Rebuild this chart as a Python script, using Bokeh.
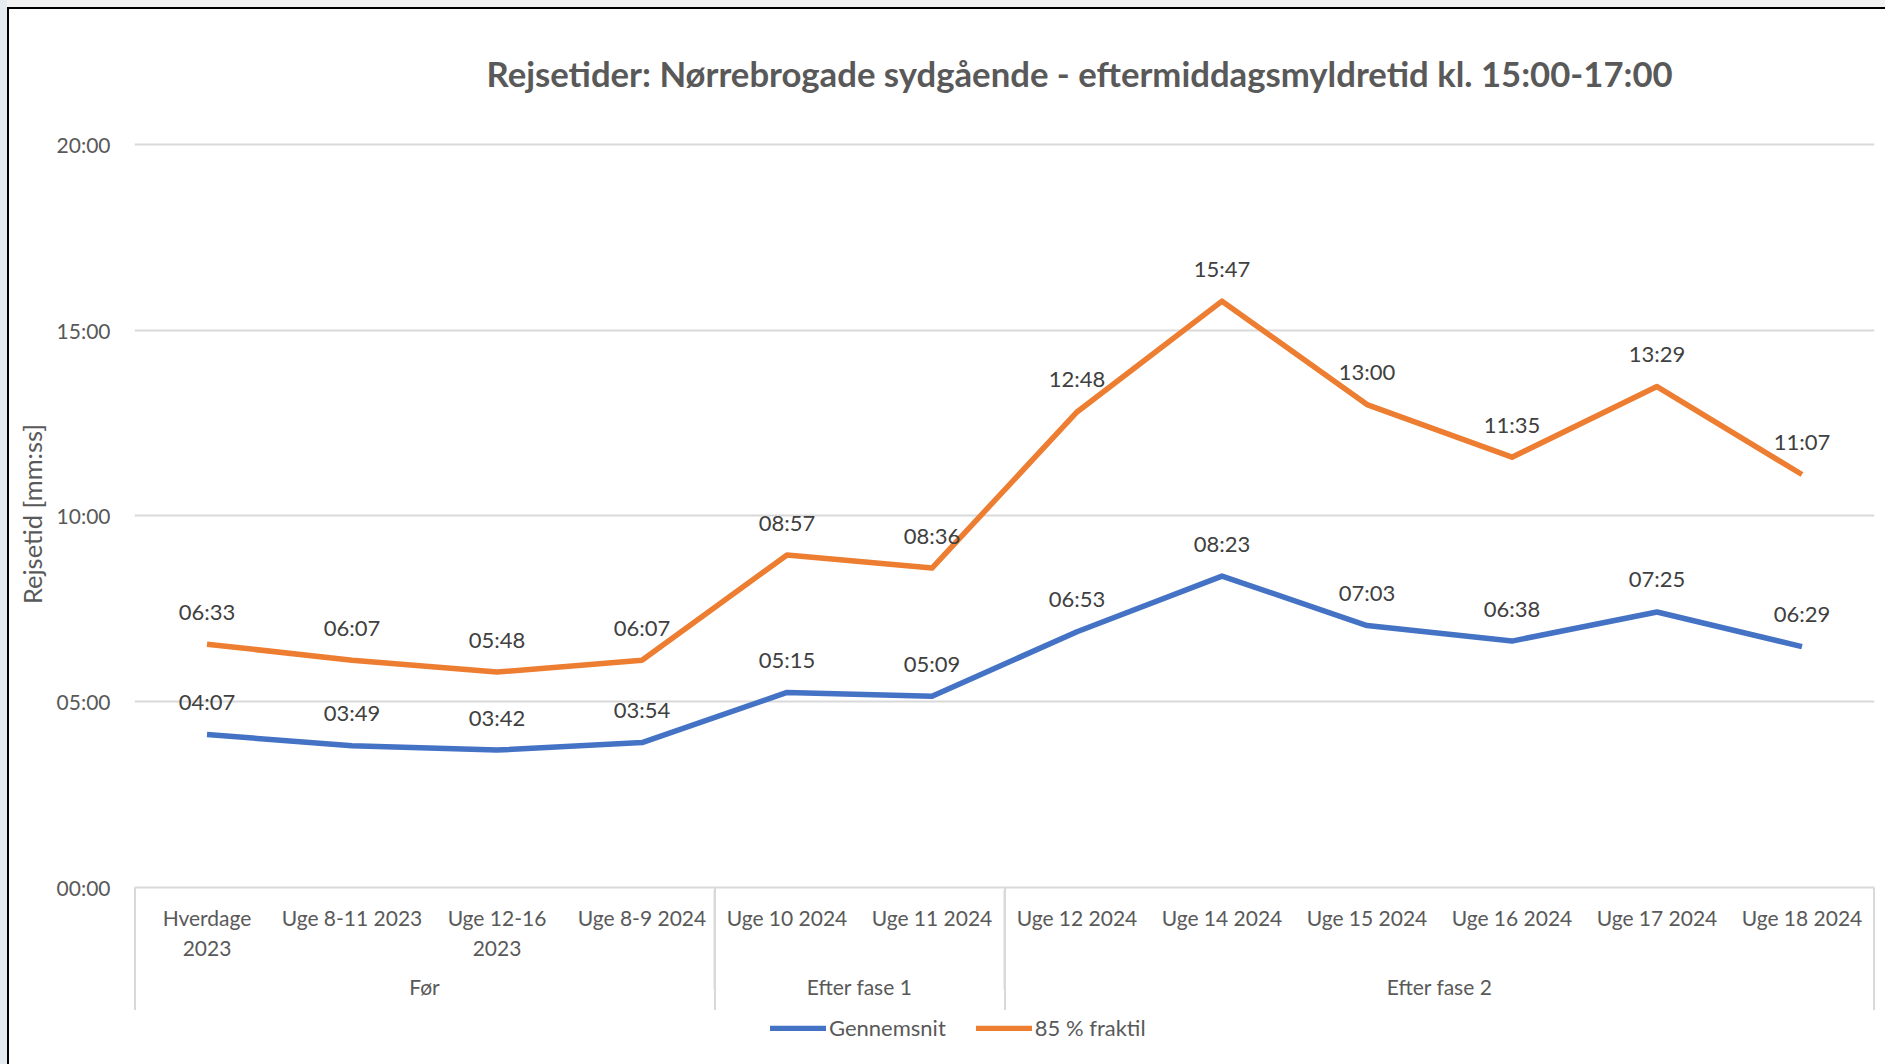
from bokeh.plotting import figure
from bokeh.layouts import column
from bokeh.embed import file_html
from bokeh.resources import INLINE
from bokeh.models import (FactorRange, Range1d, FixedTicker, Legend, LegendItem, ColumnDataSource)
from bokeh.core.properties import value

groups = ["Før"] * 4 + ["Efter fase 1"] * 2 + ["Efter fase 2"] * 6
categories = ["Hverdage\n2023", "Uge 8-11 2023", "Uge 12-16\n2023", "Uge 8-9 2024",
              "Uge 10 2024", "Uge 11 2024", "Uge 12 2024", "Uge 14 2024",
              "Uge 15 2024", "Uge 16 2024", "Uge 17 2024", "Uge 18 2024"]
gennemsnit = ["04:07", "03:49", "03:42", "03:54", "05:15", "05:09", "06:53", "08:23", "07:03", "06:38", "07:25", "06:29"]
fraktil = ["06:33", "06:07", "05:48", "06:07", "08:57", "08:36", "12:48", "15:47", "13:00", "11:35", "13:29", "11:07"]
y_ticks = [0, 300, 600, 900, 1200]
y_labels = ["00:00", "05:00", "10:00", "15:00", "20:00"]
title = "Rejsetider: Nørrebrogade sydgående - eftermiddagsmyldretid kl. 15:00-17:00"

FONT = "Lato"
TXT = "#595959"
GRID = "#d9d9d9"
BLUE = "#4472c4"
ORANGE = "#ed7d31"

def secs(s):
    m, ss = s.split(":")
    return int(m) * 60 + int(ss)

factors = list(zip(groups, categories))

# the frame reaches a little above 20:00 so that the top gridline is drawn whole
p = figure(width=1885, height=1012, output_backend="svg", toolbar_location=None,
           x_range=FactorRange(factors=factors, factor_padding=0, subgroup_padding=0,
                               group_padding=0, range_padding=0),
           y_range=Range1d(0, 1206.46),
           min_border_left=134, min_border_right=11, min_border_top=140, min_border_bottom=125)
p.outline_line_color = None
p.background_fill_color = None
p.border_fill_color = None

p.title.text = title
p.title.text_font = FONT
p.title.text_font_size = "34.7px"
p.title.text_font_style = "bold"
p.title.text_color = TXT
p.title.align = "left"
p.title.offset = 352
p.title.standoff = 94

p.xgrid.visible = False
p.ygrid.grid_line_color = GRID
p.ygrid.grid_line_width = 2
p.ygrid.ticker = FixedTicker(ticks=y_ticks)

ax = p.yaxis[0]
ax.ticker = FixedTicker(ticks=y_ticks)
ax.major_label_overrides = dict(zip(y_ticks, y_labels))
ax.axis_line_color = None
ax.major_tick_line_color = None
ax.minor_tick_line_color = None
ax.major_label_text_font = FONT
ax.major_label_text_font_size = "21px"
ax.major_label_text_color = TXT
ax.major_label_standoff = 18
ax.axis_label = "Rejsetid [mm:ss]"
ax.axis_label_text_font = FONT
ax.axis_label_text_font_size = "25.5px"
ax.axis_label_text_font_style = "normal"
ax.axis_label_text_color = TXT
ax.axis_label_standoff = 7

xa = p.xaxis[0]
xa.axis_line_color = GRID
xa.axis_line_width = 2
xa.major_tick_line_color = None
xa.minor_tick_line_color = None
xa.major_label_orientation = "horizontal"
xa.major_label_text_font = FONT
xa.major_label_text_font_size = "21px"
xa.major_label_text_color = TXT
xa.major_label_standoff = 11
xa.group_text_font = FONT
xa.group_text_font_size = "21px"
xa.group_text_font_style = "normal"
xa.group_text_color = TXT
xa.group_text_line_height = 1.7
xa.separator_line_color = GRID
xa.separator_line_width = 2

src = ColumnDataSource(dict(x=factors, g=[secs(s) for s in gennemsnit], f=[secs(s) for s in fraktil],
                            gl=gennemsnit, fl=fraktil))
p.line("x", "g", source=src, line_color=BLUE, line_width=5.5, line_join="round")
p.line("x", "f", source=src, line_color=ORANGE, line_width=5.5, line_join="round")
for col, lab in (("g", "gl"), ("f", "fl")):
    p.text("x", col, text=lab, source=src, text_font=value(FONT), text_font_size="22px",
           text_color="#404040", text_align="center", text_baseline="middle", y_offset=-33)

# legend strip under the chart (its keys' own lines lie outside the strip's ranges)
q = figure(width=1885, height=52, output_backend="svg", toolbar_location=None,
           x_range=Range1d(0, 1), y_range=Range1d(0, 1), x_axis_type=None, y_axis_type=None,
           min_border=0)
q.outline_line_color = None
q.background_fill_color = None
q.border_fill_color = None
q.grid.visible = False
k1 = q.line([5, 6], [5, 6], line_color=BLUE, line_width=5.5, line_cap="round")
k2 = q.line([5, 6], [5, 6], line_color=ORANGE, line_width=5.5, line_cap="round")
legend = Legend(items=[LegendItem(label="Gennemsnit", renderers=[k1]),
                       LegendItem(label="85 % fraktil", renderers=[k2])],
                orientation="horizontal", location=(636, 23), border_line_color=None,
                background_fill_alpha=0, label_text_font=FONT, label_text_font_size="22px",
                label_text_color=TXT, glyph_width=56, glyph_height=6, spacing=30,
                label_standoff=3, padding=0, margin=0)
q.add_layout(legend)

# chart-area border, the axis end caps and separators, and the sliver of backdrop outside the border
layers = [
    "linear-gradient(black,black) 7px 7px/2px 1057px no-repeat",
    "linear-gradient(black,black) 7px 7px/1878px 2px no-repeat",
    f"linear-gradient({GRID},{GRID}) 134px 888px/2px 122px no-repeat",
    f"linear-gradient({GRID},{GRID}) 714px 888px/2px 122px no-repeat",
    f"linear-gradient({GRID},{GRID}) 1004px 888px/2px 122px no-repeat",
    f"linear-gradient({GRID},{GRID}) 1873px 888px/2px 122px no-repeat",
    "linear-gradient(#e4ecef,#e4ecef) 0 0/7px 1064px no-repeat",
    "linear-gradient(#f2f2f2,#f2f2f2) 0 0/1885px 7px no-repeat",
]
page = column(p, q, width=1885, height=1064, spacing=0,
              styles={"background": ", ".join(layers) + ", white"})

open("out.html", "w").write(file_html(page, INLINE))
